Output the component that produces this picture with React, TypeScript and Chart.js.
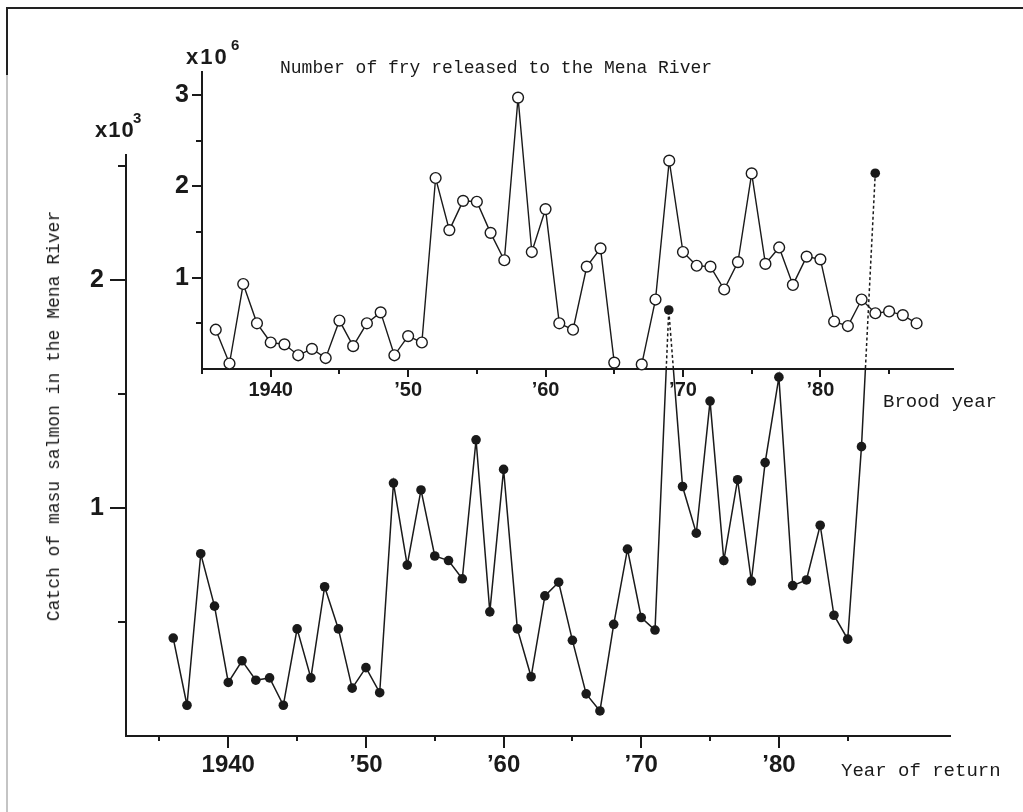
import React, { useEffect, useRef } from "react";
import { Chart, registerables } from "chart.js";

Chart.register(...registerables);

// ---- Data ----
// Upper panel: number of fry released to the Mena River (x10^6), by brood year
const broodYears = [
  1936, 1937, 1938, 1939, 1940, 1941, 1942, 1943, 1944, 1945, 1946, 1947, 1948,
  1949, 1950, 1951, 1952, 1953, 1954, 1955, 1956, 1957, 1958, 1959, 1960, 1961,
  1962, 1963, 1964, 1965, 1966, 1967, 1968, 1969, 1970, 1971, 1972, 1973, 1974,
  1975, 1976, 1977, 1978, 1979, 1980, 1981, 1982, 1983, 1984, 1985, 1986, 1987,
];
const fryReleased = [
  0.43, 0.06, 0.93, 0.5, 0.29, 0.27, 0.15, 0.22, 0.12, 0.53, 0.25, 0.5, 0.62,
  0.15, 0.36, 0.29, 2.09, 1.52, 1.84, 1.83, 1.49, 1.19, 2.97, 1.28, 1.75, 0.5,
  0.43, 1.12, 1.32, 0.07, null, 0.05, 0.76, 2.28, 1.28, 1.13, 1.12, 0.87, 1.17,
  2.14, 1.15, 1.33, 0.92, 1.23, 1.2, 0.52, 0.47, 0.76, 0.61, 0.63, 0.59, 0.5,
];

// Lower panel: catch of masu salmon in the Mena River (x10^3), by year of return
const returnYears = [
  1936, 1937, 1938, 1939, 1940, 1941, 1942, 1943, 1944, 1945, 1946, 1947, 1948,
  1949, 1950, 1951, 1952, 1953, 1954, 1955, 1956, 1957, 1958, 1959, 1960, 1961,
  1962, 1963, 1964, 1965, 1966, 1967, 1968, 1969, 1970, 1971, 1972, 1973, 1974,
  1975, 1976, 1977, 1978, 1979, 1980, 1981, 1982, 1983, 1984, 1985, 1986, 1987,
];
const catchMasu = [
  0.43, 0.135, 0.8, 0.57, 0.235, 0.33, 0.245, 0.255, 0.135, 0.47, 0.255, 0.655,
  0.47, 0.21, 0.3, 0.19, 1.11, 0.75, 1.08, 0.79, 0.77, 0.69, 1.3, 0.545, 1.17,
  0.47, 0.26, 0.615, 0.675, 0.42, 0.185, 0.11, 0.49, 0.82, 0.52, 0.465, 1.87,
  1.095, 0.89, 1.47, 0.77, 1.125, 0.68, 1.2, 1.575, 0.66, 0.685, 0.925, 0.53,
  0.425, 1.27, 2.47,
];

// Tick values and labels
const yearTickValues = [1935, 1940, 1945, 1950, 1955, 1960, 1965, 1970, 1975, 1980, 1985];
const yearTickLabels = ["", "1940", "", "\u201950", "", "\u201960", "", "\u201970", "", "\u201980", ""];
const fryTickValues = [0.5, 1, 1.5, 2, 2.5, 3];
const fryTickLabels = ["", "1", "", "2", "", "3"];
const catchTickValues = [0.5, 1, 1.5, 2, 2.5];
const catchTickLabels = ["", "1", "", "2", ""];

const INK = "#1a1a1a";
const SANS = '"Liberation Sans", Arial, Helvetica, sans-serif';
const MONO = '"Liberation Mono", "Courier New", monospace';

const W = 1023;
const H = 812;

// Draw tick marks: long for labelled ticks, short for unlabelled ones
const tickMarksPlugin = {
  id: "tickMarks",
  afterDraw(chart: any, _args: any, opts: any) {
    const ctx = chart.ctx;
    const { left, bottom } = chart.chartArea;
    const xs = chart.scales.x;
    const ys = chart.scales.y;
    ctx.save();
    ctx.strokeStyle = INK;
    ctx.lineWidth = opts.width || 2;
    xs.ticks.forEach((t: any) => {
      const len = t.label ? opts.xMajor : opts.xMinor;
      const px = Math.round(xs.getPixelForValue(t.value));
      ctx.beginPath();
      ctx.moveTo(px, bottom);
      ctx.lineTo(px, bottom + len);
      ctx.stroke();
    });
    ys.ticks.forEach((t: any) => {
      const len = t.label ? opts.yMajor : opts.yMinor;
      const py = Math.round(ys.getPixelForValue(t.value));
      ctx.beginPath();
      ctx.moveTo(left - len, py);
      ctx.lineTo(left, py);
      ctx.stroke();
    });
    ctx.restore();
  },
};

function makeScales(p: {
  xMin: number; xMax: number; yMin: number; yMax: number;
  xHeight: number; yWidth: number;
  yTicks: number[]; yLabels: string[];
  xFont: number; yFont: number; xPad: number; yPad: number;
}) {
  return {
    x: {
      type: "linear",
      min: p.xMin,
      max: p.xMax,
      afterFit: (s: any) => { s.height = p.xHeight; },
      afterBuildTicks: (s: any) => { s.ticks = yearTickValues.map((v) => ({ value: v })); },
      grid: { display: false, drawTicks: false },
      border: { display: true, color: INK, width: 2 },
      ticks: {
        autoSkip: false,
        maxRotation: 0,
        minRotation: 0,
        padding: p.xPad,
        color: INK,
        font: { family: SANS, size: p.xFont, weight: "bold" },
        callback: (_v: any, i: number) => yearTickLabels[i],
      },
    },
    y: {
      type: "linear",
      min: p.yMin,
      max: p.yMax,
      afterFit: (s: any) => { s.width = p.yWidth; },
      afterBuildTicks: (s: any) => { s.ticks = p.yTicks.map((v) => ({ value: v })); },
      grid: { display: false, drawTicks: false },
      border: { display: true, color: INK, width: 2 },
      ticks: {
        autoSkip: false,
        padding: p.yPad,
        color: INK,
        font: { family: SANS, size: p.yFont, weight: "bold" },
        callback: (_v: any, i: number) => p.yLabels[i],
      },
    },
  };
}

export default function App() {
  const catchRef = useRef<HTMLCanvasElement | null>(null);
  const fryRef = useRef<HTMLCanvasElement | null>(null);

  useEffect(() => {
    if (!catchRef.current || !fryRef.current) return;

    const fryPts = broodYears.map((yr, i) => ({ x: yr, y: fryReleased[i] }));
    const catchPts = returnYears.map((yr, i) => ({ x: yr, y: catchMasu[i] }));

    // Inset chart: fry released (brood year)
    const fryChart = new Chart(fryRef.current, {
      type: "line",
      data: {
        datasets: [
          {
            label: "Number of fry released",
            data: fryPts as any,
            borderColor: INK,
            borderWidth: 1.4,
            pointRadius: 5.4,
            pointBackgroundColor: "#ffffff",
            pointBorderColor: INK,
            pointBorderWidth: 1.4,
            spanGaps: false,
            tension: 0,
            clip: false as any,
          },
        ],
      },
      options: {
        responsive: false,
        animation: false,
        events: [],
        layout: { padding: { left: 0, top: 72, right: 70, bottom: 0 } },
        plugins: {
          legend: { display: false },
          tooltip: { enabled: false },
          tickMarks: { xMajor: 8, xMinor: 5, yMajor: 10, yMinor: 6, width: 2 },
        } as any,
        scales: makeScales({
          xMin: 1935, xMax: 1989.65, yMin: 0, yMax: 3.25,
          xHeight: H - 369, yWidth: 202,
          yTicks: fryTickValues, yLabels: fryTickLabels,
          xFont: 20, yFont: 25, xPad: 9, yPad: 13,
        }) as any,
      },
      plugins: [tickMarksPlugin],
    });

    const cutY = fryChart.chartArea.bottom;

    // Lines of the catch series are dashed where they pass through the inset
    const splitClipPlugin = {
      id: "splitClip",
      beforeDatasetDraw(chart: any, args: any) {
        const ds = chart.data.datasets[args.index];
        if (!ds.clipRegion) return;
        const ctx = chart.ctx;
        ctx.save();
        ctx.beginPath();
        if (ds.clipRegion === "below") ctx.rect(0, cutY, chart.width, chart.height - cutY);
        else ctx.rect(0, 0, chart.width, cutY);
        ctx.clip();
      },
      afterDatasetDraw(chart: any, args: any) {
        const ds = chart.data.datasets[args.index];
        if (ds.clipRegion) chart.ctx.restore();
      },
    };

    const catchChart = new Chart(catchRef.current, {
      type: "line",
      data: {
        datasets: [
          {
            label: "catch (solid)",
            data: catchPts as any,
            borderColor: INK,
            borderWidth: 1.5,
            pointRadius: 0,
            tension: 0,
            clip: false as any,
            clipRegion: "below",
          } as any,
          {
            label: "catch (dashed)",
            data: catchPts as any,
            borderColor: INK,
            borderWidth: 1.5,
            borderDash: [3, 2.5],
            pointRadius: 0,
            tension: 0,
            clip: false as any,
            clipRegion: "above",
          } as any,
          {
            label: "Catch of masu salmon",
            data: catchPts as any,
            showLine: false,
            pointRadius: 4.8,
            pointBackgroundColor: INK,
            pointBorderColor: INK,
            pointBorderWidth: 0,
            clip: false as any,
          },
        ],
      },
      options: {
        responsive: false,
        animation: false,
        events: [],
        layout: { padding: { left: 0, top: 155, right: 73, bottom: 0 } },
        plugins: {
          legend: { display: false },
          tooltip: { enabled: false },
          tickMarks: { xMajor: 12, xMinor: 5, yMajor: 16, yMinor: 8, width: 2 },
        } as any,
        scales: makeScales({
          xMin: 1932.57, xMax: 1992.43, yMin: 0, yMax: 2.55,
          xHeight: H - 736, yWidth: 126,
          yTicks: catchTickValues, yLabels: catchTickLabels,
          xFont: 24, yFont: 25, xPad: 15, yPad: 22,
        }) as any,
      },
      plugins: [tickMarksPlugin, splitClipPlugin],
    });

    return () => {
      catchChart.destroy();
      fryChart.destroy();
    };
  }, []);

  const abs = (extra: React.CSSProperties): React.CSSProperties => ({
    position: "absolute",
    whiteSpace: "nowrap",
    color: INK,
    margin: 0,
    ...extra,
  });

  return (
    <div
      style={{
        position: "absolute",
        left: 0,
        top: 0,
        width: W,
        height: H,
        background: "#ffffff",
        overflow: "hidden",
      }}
    >
      {/* scanned frame edges */}
      <div style={{ position: "absolute", left: 6, top: 7, width: W - 6, height: 2, background: "#222" }} />
      <div style={{ position: "absolute", left: 6, top: 7, width: 2, height: 68, background: "#222" }} />
      <div style={{ position: "absolute", left: 6, top: 75, width: 2, height: H - 75, background: "#c4c4c4" }} />

      <canvas
        ref={catchRef}
        width={W}
        height={H}
        style={{ position: "absolute", left: 0, top: 0, width: W, height: H }}
      />
      <canvas
        ref={fryRef}
        width={W}
        height={H}
        style={{ position: "absolute", left: 0, top: 0, width: W, height: H }}
      />

      {/* unit labels */}
      <div style={abs({ left: 186, top: 46, fontFamily: SANS, fontWeight: "bold", fontSize: 22, lineHeight: "22px", letterSpacing: 2 })}>x10</div>
      <div style={abs({ left: 231, top: 37, fontFamily: SANS, fontWeight: "bold", fontSize: 15, lineHeight: "15px" })}>6</div>
      <div style={abs({ left: 95, top: 119, fontFamily: SANS, fontWeight: "bold", fontSize: 22, lineHeight: "22px", letterSpacing: 1 })}>x10</div>
      <div style={abs({ left: 133, top: 110, fontFamily: SANS, fontWeight: "bold", fontSize: 15, lineHeight: "15px" })}>3</div>

      {/* titles */}
      <div style={abs({ left: 280, top: 59, fontFamily: MONO, fontSize: 18, lineHeight: "18px" })}>
        Number of fry released to the Mena River
      </div>
      <div style={abs({ left: 883, top: 393, fontFamily: MONO, fontSize: 19, lineHeight: "19px" })}>
        Brood year
      </div>
      <div style={abs({ left: 841, top: 762, fontFamily: MONO, fontSize: 19, lineHeight: "19px" })}>
        Year of return
      </div>
      <div
        style={abs({
          left: 54,
          top: 416,
          fontFamily: MONO,
          fontSize: 18,
          lineHeight: "18px",
          transform: "translate(-50%, -50%) rotate(-90deg)",
        })}
      >
        Catch of masu salmon in the Mena River
      </div>
    </div>
  );
}
